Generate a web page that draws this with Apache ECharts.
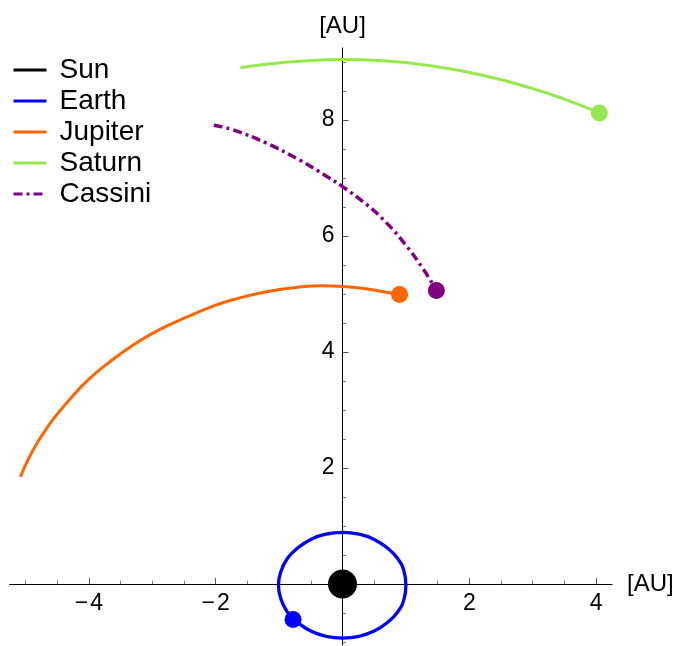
<!DOCTYPE html>
<html>
<head>
<meta charset="utf-8">
<script src="https://cdn.jsdelivr.net/npm/echarts@6/dist/echarts.min.js"></script>
<style>html,body{margin:0;padding:0;background:#fff}#c{width:677px;height:646px}</style>
</head>
<body>
<div id="c"></div>
<script>
const seriesNames = ['Sun', 'Earth', 'Jupiter', 'Saturn', 'Cassini'];
const sunPos = [[0, 0]];
const earthOrbit = [[-0.78,-0.60],[-0.71,-0.66],[-0.50,-0.81],[-0.26,-0.90],[0.00,-0.93],[0.26,-0.90],[0.50,-0.81],[0.71,-0.66],[0.87,-0.48],[0.97,-0.26],[1.00,-0.02],[0.97,0.22],[0.87,0.44],[0.71,0.62],[0.50,0.77],[0.26,0.86],[0.00,0.89],[-0.26,0.86],[-0.50,0.77],[-0.71,0.62],[-0.87,0.44],[-0.97,0.22],[-1.01,-0.02],[-0.97,-0.26],[-0.87,-0.48],[-0.78,-0.60]];
const earthPos = [[-0.78, -0.61]];
const jupiterPath = [[-5.08,1.85],[-4.88,2.31],[-4.61,2.77],[-4.35,3.12],[-4.04,3.49],[-3.67,3.83],[-3.30,4.12],[-2.88,4.39],[-2.46,4.60],[-2.04,4.79],[-1.73,4.90],[-1.20,5.04],[-0.68,5.12],[-0.31,5.14],[0.00,5.13],[0.37,5.09],[0.69,5.03],[0.90,4.99]];
const jupiterPos = [[0.90, 4.99]];
const saturnPath = [[-1.61,8.90],[-1.20,8.96],[-0.68,9.01],[0.00,9.04],[0.63,9.02],[1.42,8.93],[2.21,8.77],[3.00,8.54],[3.52,8.35],[4.05,8.12]];
const saturnPos = [[4.05, 8.12]];
const cassiniPath = [[-2.03,7.91],[-1.73,7.83],[-1.20,7.60],[-0.68,7.31],[-0.31,7.07],[0.00,6.85],[0.37,6.55],[0.69,6.23],[1.00,5.84],[1.26,5.45],[1.48,5.07]];
const cassiniPos = [[1.48, 5.06]];
const xMajorTicks = [-4, -2, 2, 4];
const xMinorTicks = [-5, -4.5, -3.5, -3, -2.5, -1.5, -1, -0.5, 0.5, 1, 1.5, 2.5, 3, 3.5];
const yMajorTicks = [2, 4, 6, 8];
const yMinorTicks = [-1, -0.5, 0.5, 1, 1.5, 2.5, 3, 3.5, 4.5, 5, 5.5, 6.5, 7, 7.5, 8.5, 9];

const FONT = 'Liberation Sans, Arial, sans-serif';
const colors = { Sun: '#000000', Earth: '#0000ff', Jupiter: '#ff6600', Saturn: '#95e84e', Cassini: '#800080' };
const minus = v => String(v).replace('-', '\u2212\u200A');

const W = 677, H = 646;
const G = { left: 9.6, right: 65, top: 48, bottom: 1 };
const xMin = -5.25, xMax = 4.25, yMin = -1.05, yMax = 9.24;
// place the axes through the origin (offset from the grid edge)
const gw = W - G.left - G.right, gh = H - G.top - G.bottom;
const yAxisOffset = -((0 - xMin) / (xMax - xMin) * gw);
const xAxisOffset = -((0 - yMin) / (yMax - yMin) * gh);

function axis(min, max, position, offset, ticks, len, labels, color, lineOpacity, name, nameGap) {
  return {
    type: 'value', min, max, position, offset,
    axisLine: { show: true, onZero: false, lineStyle: { color: '#000', width: 1, opacity: lineOpacity } },
    axisTick: { show: true, inside: true, length: len, customValues: ticks, lineStyle: { color, width: 1 } },
    axisLabel: labels ? { show: true, color: '#000', fontSize: 23, fontFamily: FONT, margin: 8, formatter: minus, customValues: labels } : { show: false },
    splitLine: { show: false },
    name: name || '', nameLocation: 'end', nameGap: nameGap || 0,
    nameTextStyle: { color: '#000', fontSize: 24, fontFamily: FONT }
  };
}

const chart = echarts.init(document.getElementById('c'), null, { renderer: 'canvas' });
chart.setOption({
  animation: false,
  backgroundColor: '#fff',
  grid: Object.assign({ containLabel: false, outerBoundsMode: 'none' }, G),
  legend: {
    orient: 'vertical', left: 12, top: 55, padding: 0,
    itemWidth: 33, itemHeight: 14, itemGap: 1,
    selectedMode: false,
    data: seriesNames,
    itemStyle: { opacity: 0 },
    lineStyle: { width: 3 },
    textStyle: { color: '#000', fontSize: 28, fontFamily: FONT, lineHeight: 30, padding: [0, 0, 0, 8] }
  },
  xAxis: [
    axis(xMin, xMax, 'bottom', xAxisOffset, xMajorTicks, 6, xMajorTicks, '#555', 1, '[AU]', 15),
    axis(xMin, xMax, 'bottom', xAxisOffset, xMinorTicks, 3.5, null, '#777', 0)
  ],
  yAxis: [
    axis(yMin, yMax, 'left', yAxisOffset, yMajorTicks, 6, yMajorTicks, '#555', 1, '[AU]', 10),
    axis(yMin, yMax, 'left', yAxisOffset, yMinorTicks, 3.5, null, '#777', 0)
  ],
  series: [
    { name: 'Sun', type: 'line', data: sunPos, symbol: 'none', lineStyle: { color: colors.Sun, width: 3 }, itemStyle: { color: colors.Sun } },
    { name: 'Earth', type: 'line', data: earthOrbit, symbol: 'none', smooth: true, lineStyle: { color: colors.Earth, width: 3.3 }, itemStyle: { color: colors.Earth } },
    { name: 'Jupiter', type: 'line', data: jupiterPath, symbol: 'none', smooth: true, lineStyle: { color: colors.Jupiter, width: 3 }, itemStyle: { color: colors.Jupiter } },
    { name: 'Saturn', type: 'line', data: saturnPath, symbol: 'none', smooth: true, lineStyle: { color: colors.Saturn, width: 3 }, itemStyle: { color: colors.Saturn } },
    { name: 'Cassini', type: 'line', data: cassiniPath, symbol: 'none', smooth: true, lineStyle: { color: colors.Cassini, width: 3.5, type: [9, 4, 3, 4] }, itemStyle: { color: colors.Cassini } },
    { name: 'sunDot', type: 'scatter', data: sunPos, symbol: 'circle', symbolSize: 29, itemStyle: { color: colors.Sun, opacity: 1 } },
    { name: 'earthDot', type: 'scatter', data: earthPos, symbol: 'circle', symbolSize: 17, itemStyle: { color: colors.Earth, opacity: 1 } },
    { name: 'jupiterDot', type: 'scatter', data: jupiterPos, symbol: 'circle', symbolSize: 17, itemStyle: { color: colors.Jupiter, opacity: 1 } },
    { name: 'saturnDot', type: 'scatter', data: saturnPos, symbol: 'circle', symbolSize: 17, itemStyle: { color: colors.Saturn, opacity: 1 } },
    { name: 'cassiniDot', type: 'scatter', data: cassiniPos, symbol: 'circle', symbolSize: 17, itemStyle: { color: colors.Cassini, opacity: 1 } }
  ]
});
</script>
</body>
</html>
